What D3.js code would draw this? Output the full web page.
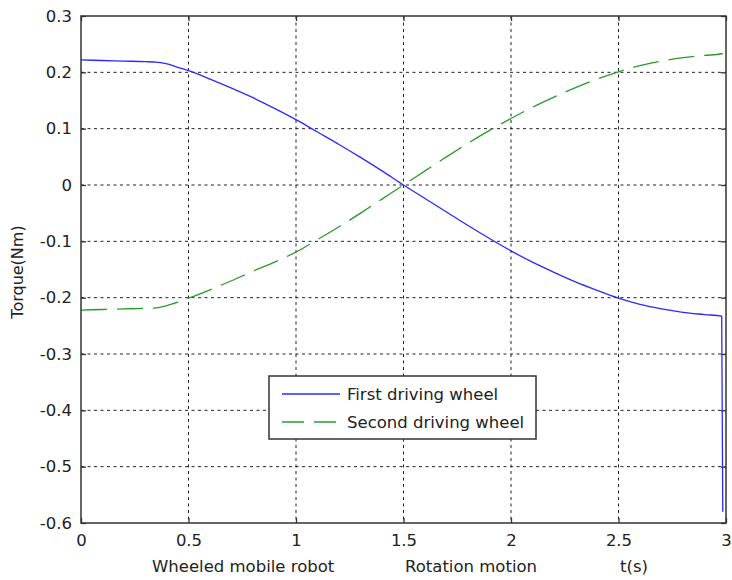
<!DOCTYPE html>
<html>
<head>
<meta charset="utf-8">
<script src="https://cdn.jsdelivr.net/npm/d3@7"></script>
<style>
body { margin: 0; background: #fff; }
text { font-family: "DejaVu Sans", Arial, sans-serif; fill: #222; }
</style>
</head>
<body>
<div id="chart"></div>
<script>
var width = 732, height = 580;
var margin = {top: 16, right: 6, bottom: 57, left: 81};

// time (s)
var t = [0, 0.1, 0.2, 0.3, 0.35, 0.4, 0.45, 0.5, 0.6, 0.7, 0.8, 0.9, 1.0, 1.1, 1.2, 1.3, 1.4, 1.5,
	1.6, 1.7, 1.8, 1.9, 2.0, 2.1, 2.2, 2.3, 2.4, 2.5, 2.6, 2.7, 2.8, 2.9, 2.98, 2.985];
// first driving wheel torque
var first = [0.222, 0.221, 0.220, 0.219, 0.218, 0.215, 0.209, 0.203, 0.188, 0.172, 0.155, 0.136, 0.116, 0.094, 0.072, 0.049, 0.025, 0.0,
	-0.024, -0.048, -0.072, -0.095, -0.117, -0.137, -0.155, -0.172, -0.187, -0.201, -0.212, -0.220, -0.226, -0.230, -0.233, -0.58];
// second driving wheel torque
var second = [-0.222, -0.221, -0.220, -0.219, -0.218, -0.214, -0.208, -0.201, -0.186, -0.170, -0.153, -0.137, -0.119, -0.097, -0.074, -0.050, -0.025, 0.0,
	0.025, 0.050, 0.074, 0.097, 0.118, 0.138, 0.156, 0.173, 0.188, 0.201, 0.212, 0.220, 0.226, 0.230, 0.233, 0.234];

var xTicks = [0, 0.5, 1, 1.5, 2, 2.5, 3];
var yTicks = [-0.6, -0.5, -0.4, -0.3, -0.2, -0.1, 0, 0.1, 0.2, 0.3];
var legendNames = ["First driving wheel", "Second driving wheel"];

var svg = d3.select("#chart").append("svg")
	.attr("width", width)
	.attr("height", height);

var x = d3.scaleLinear().domain([0, 3]).range([margin.left, width - margin.right]);
var y = d3.scaleLinear().domain([-0.6, 0.3]).range([height - margin.bottom, margin.top]);
var fmt = d => String(d);

// grid
svg.append("g").selectAll("line").data(xTicks.slice(1, -1)).enter().append("line")
	.attr("x1", d => x(d)).attr("x2", d => x(d))
	.attr("y1", y(0.3)).attr("y2", y(-0.6))
	.attr("stroke", "#222").attr("stroke-dasharray", "3,3.5");
svg.append("g").selectAll("line").data(yTicks.slice(1, -1)).enter().append("line")
	.attr("y1", d => y(d)).attr("y2", d => y(d))
	.attr("x1", x(0)).attr("x2", x(3))
	.attr("stroke", "#222").attr("stroke-dasharray", "3,3.5");

// axes with inward ticks
svg.append("g").attr("transform", "translate(0," + y(-0.6) + ")")
	.call(d3.axisBottom(x).tickValues(xTicks).tickSizeInner(-5).tickSizeOuter(0).tickPadding(11).tickFormat(fmt));
svg.append("g").attr("transform", "translate(" + x(0) + ",0)")
	.call(d3.axisLeft(y).tickValues(yTicks).tickSizeInner(-5).tickSizeOuter(0).tickPadding(9).tickFormat(fmt));
svg.append("g").attr("transform", "translate(0," + y(0.3) + ")")
	.call(d3.axisTop(x).tickValues(xTicks).tickSizeInner(-5).tickSizeOuter(0).tickFormat(""));
svg.append("g").attr("transform", "translate(" + x(3) + ",0)")
	.call(d3.axisRight(y).tickValues(yTicks).tickSizeInner(-5).tickSizeOuter(0).tickFormat(""));
svg.selectAll(".domain").remove();
svg.selectAll(".tick line").attr("stroke", "#333").attr("stroke-width", 1.3);
svg.selectAll(".tick text").style("font-size", "16.5px").attr("fill", "#222");

// lines
var line = d3.line().x((d, i) => x(t[i])).y(d => y(d)).curve(d3.curveMonotoneX);
svg.append("path").datum(second).attr("d", line)
	.attr("fill", "none").attr("stroke", "#2a9a2a").attr("stroke-width", 1.3)
	.attr("stroke-dasharray", "26,10");
svg.append("path").datum(first).attr("d", line)
	.attr("fill", "none").attr("stroke", "#2a2aff").attr("stroke-width", 1.3);

// box
svg.append("rect").attr("x", x(0)).attr("y", y(0.3))
	.attr("width", x(3) - x(0)).attr("height", y(-0.6) - y(0.3))
	.attr("fill", "none").attr("stroke", "#333").attr("stroke-width", 1.5);

// labels
svg.append("text").attr("transform", "translate(23,272) rotate(-90)")
	.attr("text-anchor", "middle").style("font-size", "16px").text("Torque(Nm)");
svg.append("text").attr("x", 152).attr("y", 572).style("font-size", "16.5px").text("Wheeled mobile robot");
svg.append("text").attr("x", 405).attr("y", 572).style("font-size", "16.5px").text("Rotation motion");
svg.append("text").attr("x", 620).attr("y", 572).style("font-size", "16.5px").text("t(s)");

// legend
var lg = svg.append("g");
lg.append("rect").attr("x", 269).attr("y", 376).attr("width", 267).attr("height", 63)
	.attr("fill", "#fff").attr("stroke", "#333").attr("stroke-width", 1.5);
var colors = ["#2a2aff", "#2a9a2a"];
var dashes = [null, "22,10"];
legendNames.forEach(function(name, i) {
	var ly = 394 + i * 28;
	lg.append("line").attr("x1", 282).attr("x2", 340).attr("y1", ly).attr("y2", ly)
		.attr("stroke", colors[i]).attr("stroke-width", 1.3).attr("stroke-dasharray", dashes[i]);
	lg.append("text").attr("x", 347).attr("y", ly + 6).style("font-size", "16.5px").text(name);
});
</script>
</body>
</html>
